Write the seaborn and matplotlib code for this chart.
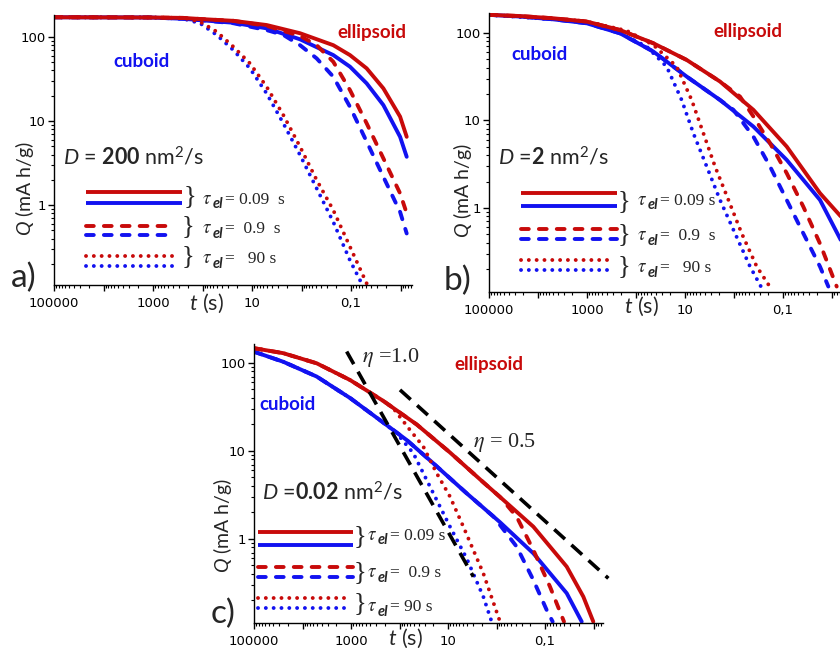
import matplotlib
matplotlib.use("Agg")
import numpy as np
import pandas as pd
import matplotlib.pyplot as plt
import matplotlib.ticker as mticker
from matplotlib.lines import Line2D
import seaborn as sns

# ---------------- data (t in s, Q in mA h/g) ----------------
# panel a : D = 200 nm^2/s
a_t_ell_s = [1e5, 1150, 244, 112, 23.8, 5.06, 1.07, 0.228, 0.105, 0.0483, 0.0222, 0.0102, 0.0075]
a_q_ell_s = [172, 171, 169, 164, 156, 139, 111, 80, 61, 42.4, 24.5, 11.3, 6.5]
a_t_cub_s = [1e5, 1150, 244, 112, 23.8, 5.06, 1.07, 0.228, 0.105, 0.0483, 0.0222, 0.0102, 0.0075]
a_q_cub_s = [172, 171, 165, 159, 148, 127, 94, 61, 44.4, 28.1, 15.5, 6.5, 3.76]
a_t_ell_d = [1e5, 1150, 244, 112, 23.8, 5.06, 1.07, 0.494, 0.228, 0.105, 0.0483, 0.0222, 0.0102, 0.0075]
a_q_ell_d = [172, 171, 169, 164, 156, 136, 103, 80, 50.8, 23.4, 9.4, 3.6, 1.38, 0.80]
a_t_cub_d = [1e5, 1150, 244, 112, 23.8, 5.06, 2.33, 1.07, 0.494, 0.228, 0.105, 0.0483, 0.0222, 0.0102, 0.0075]
a_q_cub_d = [172, 171, 165, 159, 146, 121, 106, 80, 55.7, 33.7, 14.8, 5.7, 2.17, 0.83, 0.46]
a_t_ell_o = [1e5, 1150, 244, 112, 51.8, 23.8, 11.0, 5.06, 2.33, 1.07, 0.494, 0.228, 0.105, 0.0483]
a_q_ell_o = [172, 171, 169, 152, 116, 76.7, 48.6, 25.6, 11.8, 4.95, 1.99, 0.87, 0.32, 0.117]
a_t_cub_o = [1e5, 1150, 244, 112, 51.8, 23.8, 11.0, 5.06, 2.33, 1.07, 0.494, 0.228, 0.105, 0.061]
a_q_cub_o = [172, 171, 165, 146, 106, 70, 42.4, 21.3, 9.4, 3.94, 1.58, 0.63, 0.22, 0.117]

# panel b : D = 2 nm^2/s
b_t_ell_s = [1e5, 23300, 4860, 1016, 212, 44.3, 9.25, 1.93, 0.403, 0.0841, 0.0176, 0.00665]
b_q_ell_s = [161, 156, 147, 135, 108, 76.2, 49.1, 27.8, 13.2, 5.02, 1.47, 0.80]
b_t_cub_s = [1e5, 23300, 4860, 1016, 212, 44.3, 9.25, 1.93, 0.403, 0.0841, 0.0176, 0.00665]
b_q_cub_s = [161, 154, 143, 129, 99, 61.2, 31.7, 17.1, 8.5, 3.53, 1.23, 0.43]
b_t_ell_d = [1e5, 23300, 4860, 1016, 212, 44.3, 9.25, 1.93, 0.754, 0.403, 0.184, 0.0841, 0.0385, 0.0176, 0.00803]
b_q_ell_d = [161, 156, 147, 135, 108, 76.2, 49.1, 27.8, 18.7, 11.1, 5.48, 2.49, 1.03, 0.39, 0.126]
b_t_cub_d = [1e5, 23300, 4860, 1016, 212, 44.3, 9.25, 1.93, 1.03, 0.403, 0.184, 0.0841, 0.0385, 0.0176, 0.0119]
b_q_cub_d = [161, 154, 143, 129, 99, 61.2, 31.7, 17.1, 13.2, 6.53, 2.97, 1.23, 0.51, 0.213, 0.126]
b_t_ell_o = [1e5, 4860, 1016, 155, 44.3, 14.8, 7.31, 4.22, 2.44, 1.30, 0.697, 0.344, 0.170]
b_q_ell_o = [161, 147, 135, 106, 72.9, 41.2, 17.1, 7.13, 2.97, 1.23, 0.51, 0.213, 0.116]
b_t_cub_o = [1e5, 4860, 1016, 212, 60.5, 23.7, 11.7, 6.76, 3.61, 1.93, 0.953, 0.471, 0.272]
b_q_cub_o = [161, 143, 131, 99, 69.8, 41.2, 17.1, 7.13, 2.97, 1.23, 0.51, 0.213, 0.121]

# panel c : D = 0.02 nm^2/s
c_t_ell_s = [1e5, 24900, 5100, 1050, 216, 44.3, 9.1, 1.87, 0.847, 0.174, 0.0357, 0.0162, 0.0101]
c_q_ell_s = [147, 129, 99, 64, 37, 20, 9.6, 4.4, 3.0, 1.38, 0.485, 0.221, 0.115]
c_t_cub_s = [1e5, 24900, 5100, 1050, 216, 71, 20.1, 4.12, 0.847, 0.174, 0.0357, 0.0175]
c_q_cub_s = [134, 103, 70, 40, 21, 13.3, 7.24, 3.3, 1.55, 0.687, 0.242, 0.115]
c_t_ell_d = [1e5, 24900, 5100, 1050, 216, 44.3, 9.1, 1.87, 0.847, 0.384, 0.174, 0.0789, 0.0406]
c_q_ell_d = [147, 129, 99, 64, 37, 20, 9.6, 4.4, 3.0, 1.79, 0.75, 0.287, 0.115]
c_t_cub_d = [1e5, 24900, 5100, 1050, 216, 71, 20.1, 4.12, 1.16, 0.384, 0.174, 0.0924, 0.0695]
c_q_cub_d = [134, 103, 70, 40, 21, 13.3, 7.24, 3.3, 1.8, 0.818, 0.342, 0.156, 0.115]
c_t_ell_o = [1e5, 24900, 5100, 1050, 216, 134, 60.8, 32.3, 17.1, 9.1, 4.83, 1.87, 0.847]
c_q_ell_o = [147, 129, 99, 64, 37, 30.5, 17.3, 11.2, 5.58, 3.03, 1.38, 0.407, 0.115]
c_t_cub_o = [1e5, 24900, 5100, 1050, 216, 114, 51.9, 32.3, 17.1, 9.1, 4.12, 1.87, 1.26]
c_q_cub_o = [134, 103, 70, 40, 21, 15.9, 9.42, 5.58, 2.77, 1.38, 0.6, 0.221, 0.115]
# slope guides in panel c
c_t_eta10 = [1228, 3.0]
c_q_eta10 = [134.6, 0.373]
c_t_eta05 = [97.7, 0.00494]
c_q_eta05 = [49.4, 0.357]

x_tick_values = [1e5, 1e3, 10, 0.1]
x_tick_labels = ["100000", "1000", "10", "0,1"]
y_tick_values = [1, 10, 100]
y_tick_labels = ["1", "10", "100"]
tau_values = ["0.09", "0.9", "90"]
shapes = ["cuboid", "ellipsoid"]

# ---------------- style ----------------
RED = "#C80A0A"
BLUE = "#1212F0"
sns.set_style("ticks")
plt.rcParams["font.family"] = ["Lato", "DejaVu Sans"]
plt.rcParams.update({
    "mathtext.fontset": "custom",
    "mathtext.rm": "Lato",
    "mathtext.it": "Lato:italic",
    "mathtext.bf": "Lato:bold",
    "axes.linewidth": 1.0,
    "axes.edgecolor": "black",
    "xtick.color": "black",
    "ytick.color": "black",
})

W, H = 840, 648
fig = plt.figure(figsize=(W / 100, H / 100), dpi=100)
renderer = fig.canvas.get_renderer()


def fx(x):
    return x / W


def fy(y):
    return 1 - y / H


LW = 2.8
DASHES = {"0.09": "", "0.9": (2.0, 2.6), "90": (0.01, 2.0)}
LS = {"0.09": "-", "0.9": (0, (2.0, 2.6)), "90": (0, (0.01, 2.0))}
xlab_map = {int(round(np.log10(v))): s for v, s in zip(x_tick_values, x_tick_labels)}
ylab_map = {int(round(np.log10(v))): s for v, s in zip(y_tick_values, y_tick_labels)}


def make_panel(box, xlim, ylim, curves):
    l, t, r, b = box
    ax = fig.add_axes([fx(l), fy(b), (r - l) / W, (b - t) / H])
    ax.set_xscale("log")
    ax.set_yscale("log")
    frames = []
    for shape, tau, tt, qq in curves:
        frames.append(pd.DataFrame({"t": tt, "Q": qq, "shape": shape, "tau": tau}))
    df = pd.concat(frames, ignore_index=True)
    sns.lineplot(data=df, x="t", y="Q", hue="shape", style="tau",
                 hue_order=shapes, style_order=tau_values,
                 palette={"cuboid": BLUE, "ellipsoid": RED},
                 dashes=DASHES, estimator=None, sort=False, legend=False,
                 linewidth=LW, dash_capstyle="round", solid_joinstyle="round",
                 ax=ax)
    ax.set_xlim(*xlim)
    ax.set_ylim(*ylim)
    ax.set_xlabel("")
    ax.set_ylabel("")
    ax.xaxis.set_major_locator(mticker.FixedLocator([10.0 ** k for k in range(-3, 6)]))
    ax.xaxis.set_minor_locator(mticker.LogLocator(base=10, subs=np.arange(2, 10), numticks=30))
    ax.xaxis.set_major_formatter(mticker.FuncFormatter(
        lambda v, p: xlab_map.get(int(round(np.log10(v))), "")))
    ax.xaxis.set_minor_formatter(mticker.NullFormatter())
    ax.yaxis.set_major_locator(mticker.FixedLocator([0.1, 1, 10, 100, 1000]))
    ax.yaxis.set_minor_locator(mticker.LogLocator(base=10, subs=np.arange(2, 10), numticks=30))
    ax.yaxis.set_major_formatter(mticker.FuncFormatter(
        lambda v, p: ylab_map.get(int(round(np.log10(v))), "")))
    ax.yaxis.set_minor_formatter(mticker.NullFormatter())
    ax.tick_params(which="major", length=4.5, width=1.0, labelsize=9.5)
    ax.tick_params(which="minor", length=2.5, width=0.8)
    for lab in ax.get_xticklabels() + ax.get_yticklabels():
        lab.set_family("DejaVu Sans")
    ax.tick_params(axis="x", pad=4)
    ax.tick_params(axis="y", pad=1.5)
    sns.despine(ax=ax)
    ax.patch.set_alpha(0)
    return ax


def sample(x0, x1, y, color, tau):
    fig.add_artist(Line2D([fx(x0), fx(x1)], [fy(y), fy(y)], transform=fig.transFigure,
                          color=color, lw=LW, linestyle=LS[tau],
                          dash_capstyle="round", solid_capstyle="butt"))


def tau_text(x, y, rest):
    t1 = fig.text(fx(x), fy(y), r"$\tau$", family="Liberation Serif",
                  math_fontfamily="stix", fontsize=13.5, ha="left", va="baseline")
    bb = t1.get_window_extent(renderer)
    t2 = fig.text(fx(bb.x1 + 0.3), fy(y + 4.5), "el", family="Lato", style="italic",
                  fontweight="bold", fontsize=10.5, ha="left", va="baseline")
    bb2 = t2.get_window_extent(renderer)
    fig.text(fx(bb2.x1 + 2.5), fy(y), rest, family="Liberation Serif", fontsize=12.5,
             ha="left", va="baseline")


def legend_block(x0, x1s, ys, braces, tx, tys, texts):
    for i, tau in enumerate(tau_values):
        sample(x0, x1s[i], ys[i][0], RED, tau)
        sample(x0, x1s[i], ys[i][1], BLUE, tau)
        fig.text(fx(braces[i][0]), fy(braces[i][1]), "}", family="Liberation Serif",
                 fontsize=19, ha="center", va="center")
        tau_text(tx, tys[i], texts[i])


def labels(ylab_xy, xlab_xy, letter, letter_xy):
    fig.text(fx(ylab_xy[0]), fy(ylab_xy[1]), "$Q$ (mA h/g)", fontsize=14,
             rotation=90, ha="center", va="center")
    fig.text(fx(xlab_xy[0]), fy(xlab_xy[1]), "$t$ (s)", fontsize=15.5,
             ha="center", va="center")
    fig.text(fx(letter_xy[0]), fy(letter_xy[1]), letter, fontsize=24,
             ha="left", va="baseline")


def shape_labels(ell_xy, cub_xy):
    fig.text(fx(ell_xy[0]), fy(ell_xy[1]), "ellipsoid", color=RED, fontsize=13.5,
             fontweight="bold", ha="center", va="baseline")
    fig.text(fx(cub_xy[0]), fy(cub_xy[1]), "cuboid", color=BLUE, fontsize=13.5,
             fontweight="bold", ha="center", va="baseline")


# ---------------- panel a ----------------
axa = make_panel((54, 15, 412, 285), (1e5, 0.00586), (0.112, 183), [
    ("cuboid", "0.09", a_t_cub_s, a_q_cub_s), ("ellipsoid", "0.09", a_t_ell_s, a_q_ell_s),
    ("cuboid", "0.9", a_t_cub_d, a_q_cub_d), ("ellipsoid", "0.9", a_t_ell_d, a_q_ell_d),
    ("cuboid", "90", a_t_cub_o, a_q_cub_o), ("ellipsoid", "90", a_t_ell_o, a_q_ell_o),
])
shape_labels((372, 38), (142, 67))
fig.text(fx(63), fy(165), r"$D$ = $\mathbf{200}$ nm$^2$/s", fontsize=15.5, ha="left", va="baseline")
legend_block(86, [182, 175, 177], [(192, 203), (226, 235), (256, 266)],
             [(190, 196), (188, 226), (188, 256)], 202, [204, 233, 263],
             ["= 0.09  s", "=  0.9  s", "=   90 s"])
labels((24, 188), (206, 303), "a)", (11, 287))

# ---------------- panel b ----------------
axb = make_panel((489, 13, 843, 292), (1e5, 0.00597), (0.109, 169), [
    ("cuboid", "0.09", b_t_cub_s, b_q_cub_s), ("ellipsoid", "0.09", b_t_ell_s, b_q_ell_s),
    ("cuboid", "0.9", b_t_cub_d, b_q_cub_d), ("ellipsoid", "0.9", b_t_ell_d, b_q_ell_d),
    ("cuboid", "90", b_t_cub_o, b_q_cub_o), ("ellipsoid", "90", b_t_ell_o, b_q_ell_o),
])
shape_labels((748, 37), (540, 60))
fig.text(fx(498), fy(165), r"$D$ =$\mathbf{2}$ nm$^2$/s", fontsize=15.5, ha="left", va="baseline")
legend_block(521, [617, 617, 608], [(193, 206), (229, 239), (260, 270)],
             [(624, 201), (624, 234), (624, 266)], 637, [205, 240, 272],
             ["= 0.09 s", "=  0.9  s", "=   90 s"])
labels((462, 190), (641, 306), "b)", (444, 290))

# ---------------- panel c ----------------
axc = make_panel((254, 344, 603, 623), (1e5, 0.00637), (0.111, 164), [
    ("cuboid", "0.09", c_t_cub_s, c_q_cub_s), ("ellipsoid", "0.09", c_t_ell_s, c_q_ell_s),
    ("cuboid", "0.9", c_t_cub_d, c_q_cub_d), ("ellipsoid", "0.9", c_t_ell_d, c_q_ell_d),
    ("cuboid", "90", c_t_cub_o, c_q_cub_o), ("ellipsoid", "90", c_t_ell_o, c_q_ell_o),
])
sns.lineplot(x=c_t_eta10, y=c_q_eta10, color="black", lw=2.6, linestyle=(0, (4.0, 2.4)),
             estimator=None, sort=False, ax=axc, clip_on=False)
sns.lineplot(x=c_t_eta05, y=c_q_eta05, color="black", lw=2.6, linestyle=(0, (4.0, 2.4)),
             estimator=None, sort=False, ax=axc, clip_on=False)
axc.set_xlim(1e5, 0.00637)
axc.set_ylim(0.111, 164)
shape_labels((489, 370), (288, 410))
fig.text(fx(262), fy(500), r"$D$ =$\mathbf{0.02}$ nm$^2$/s", fontsize=15.5, ha="left", va="baseline")
fig.text(fx(362), fy(362), r"$\eta$ =1.0", family="Liberation Serif", math_fontfamily="stix",
         fontsize=16, ha="left", va="baseline")
fig.text(fx(473), fy(447), r"$\eta$ = 0.5", family="Liberation Serif", math_fontfamily="stix",
         fontsize=16, ha="left", va="baseline")
legend_block(258, [353, 353, 344], [(532, 545), (567, 577), (598, 608)],
             [(360, 536), (360, 572), (360, 603)], 367, [540, 577, 611],
             ["= 0.09 s", "=  0.9 s", "= 90 s"])
labels((222, 525), (405, 638), "c)", (211, 623))

fig.savefig("out.png", dpi=100)
